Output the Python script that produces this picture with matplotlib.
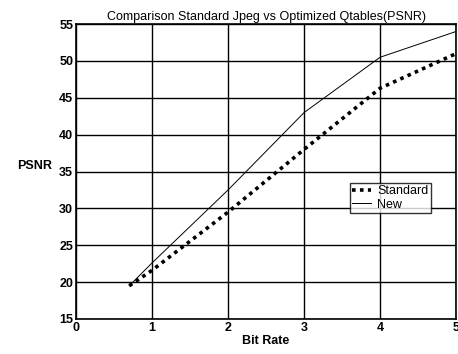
import matplotlib
matplotlib.use("Agg")
import matplotlib.pyplot as plt

bit_rate = [0.7, 1.0, 2.0, 3.0, 4.0, 5.0]
psnr_standard = [19.5, 21.6, 29.5, 38.0, 46.3, 51.0]
psnr_new = [19.5, 22.6, 32.5, 43.0, 50.5, 54.0]
x_ticks = [0, 1, 2, 3, 4, 5]
y_ticks = [15, 20, 25, 30, 35, 40, 45, 50, 55]

plt.rcParams["font.family"] = ["Liberation Sans", "DejaVu Sans"]

fig = plt.figure(figsize=(4.58, 3.54), dpi=100)
ax = fig.add_axes([0.166, 0.099, 0.83, 0.833])

ax.plot(bit_rate, psnr_standard, color="black", linestyle=(0, (1, 1.2)),
        linewidth=2.6, label="Standard")
ax.plot(bit_rate, psnr_new, color="black", linewidth=0.7, label="New")

ax.set_xlim(0, 5)
ax.set_ylim(15, 55)
ax.set_xticks(x_ticks)
ax.set_yticks(y_ticks)
ax.tick_params(labelsize=9, length=0, pad=2)
for lbl in ax.get_xticklabels() + ax.get_yticklabels():
    lbl.set_fontweight("bold")
ax.grid(True, color="black", linewidth=1.0)
for s in ax.spines.values():
    s.set_linewidth(1.2)

ax.set_xlabel("Bit Rate", fontsize=9, fontweight="bold", labelpad=1)
ax.set_ylabel("PSNR", fontsize=9, fontweight="bold", rotation=0, labelpad=18)
ax.set_title("Comparison Standard Jpeg vs Optimized Qtables(PSNR)", fontsize=9, pad=3)

leg = ax.legend(loc="center left", bbox_to_anchor=(0.72, 0.41), fontsize=9,
                frameon=True, fancybox=False, edgecolor="black",
                handlelength=1.5, handletextpad=0.5, borderpad=0.2,
                labelspacing=0.1, borderaxespad=0)
leg.get_frame().set_linewidth(1.0)

fig.savefig("out.png", dpi=100)
